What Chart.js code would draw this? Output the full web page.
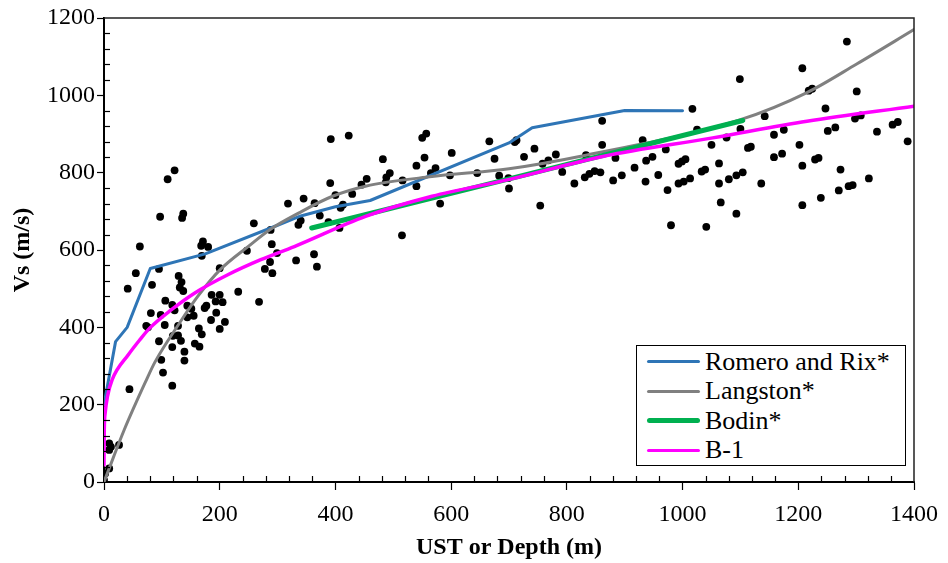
<!DOCTYPE html>
<html>
<head>
<meta charset="utf-8">
<script src="https://cdn.jsdelivr.net/npm/chart.js@4.4.1/dist/chart.umd.min.js"></script>
<style>
  html, body { margin: 0; padding: 0; background: #fff; }
  #wrap { position: relative; width: 948px; height: 563px; }
  #legend {
    position: absolute; left: 636px; top: 345px; width: 270px; height: 121px;
    box-sizing: border-box; border: 1.5px solid #000; background: #fff;
    font-family: "Liberation Serif", "Times New Roman", serif; font-size: 26px; color: #000;
    padding-top: 1px;
  }
  .row { display: flex; align-items: center; height: 29.5px; white-space: nowrap; }
  .swatch { width: 53px; margin-left: 10px; margin-right: 5px; border-radius: 3px; }
</style>
</head>
<body>
<div id="wrap">
  <canvas id="chart"></canvas>
  <div id="legend"></div>
</div>
<script>
const xTicks = [0, 200, 400, 600, 800, 1000, 1200, 1400];
const yTicks = [0, 200, 400, 600, 800, 1000, 1200];

// measured Vs profiles (depth m, Vs m/s)
const observedPoints = [
  [0, 5], [2, 22], [9, 35], [9, 100], [12, 91], [9, 83], [26, 96],
  [44, 240], [41, 500], [55, 540], [62, 609], [83, 510], [95, 551], [97, 686], [110, 783],
  [122, 806], [135, 683], [137, 694], [129, 533], [134, 517], [131, 503], [137, 494],
  [106, 469], [118, 458], [81, 437], [98, 432], [122, 444], [144, 456], [151, 448],
  [155, 430], [144, 426], [73, 404], [76, 400], [105, 406], [128, 404], [95, 364],
  [119, 378], [128, 379], [133, 365], [118, 349], [139, 337], [139, 314], [99, 316],
  [102, 283], [118, 249], [157, 358], [165, 350], [164, 397], [169, 382], [174, 450],
  [177, 456], [186, 484], [193, 467], [200, 484], [205, 465], [194, 438], [185, 419],
  [200, 396], [209, 414], [232, 492], [268, 466], [169, 585], [171, 622], [168, 611],
  [180, 608], [200, 553], [247, 598], [278, 551], [287, 569], [291, 540], [299, 592],
  [332, 573], [290, 615], [259, 669], [288, 652], [318, 720], [345, 733], [336, 665],
  [340, 676], [363, 589], [368, 557],
  [392, 887], [423, 896], [364, 721], [373, 689], [388, 672], [391, 773], [400, 742],
  [407, 657], [409, 709], [413, 717], [429, 745], [445, 769], [454, 784], [482, 835],
  [487, 775], [488, 788], [494, 799], [515, 638], [516, 780], [540, 765], [540, 818],
  [550, 890], [557, 901], [554, 839], [565, 799], [573, 812], [581, 720], [598, 793],
  [601, 851], [645, 799], [666, 881], [675, 836], [683, 792], [699, 786],
  [713, 884], [710, 879], [726, 841], [744, 862], [700, 759], [754, 715], [758, 823],
  [768, 832], [781, 847], [792, 802], [813, 772], [831, 788], [839, 797], [848, 804],
  [858, 801], [833, 845], [861, 934], [861, 872], [880, 780], [884, 838], [895, 793],
  [917, 813], [931, 884], [936, 777], [937, 831], [948, 841], [958, 794], [971, 860],
  [974, 755], [980, 664], [993, 772], [1002, 777], [1013, 785], [993, 823], [999, 829],
  [1005, 835], [1017, 965], [1025, 911], [1033, 803], [1039, 808], [1041, 660], [1050, 872],
  [1099, 1042], [1207, 1070], [1284, 1139], [1218, 1012], [1224, 1017], [1301, 1010],
  [1247, 966], [1142, 946], [1100, 913], [1076, 891], [1158, 898], [1175, 911],
  [1113, 864], [1118, 867], [1202, 872], [1158, 840], [1172, 849], [1251, 908],
  [1264, 917], [1298, 940], [1308, 948], [1336, 906], [1363, 924], [1372, 931],
  [1389, 881], [1063, 824], [1063, 772], [1080, 783], [1093, 793], [1104, 801],
  [1136, 772], [1066, 723], [1093, 694], [1207, 818], [1229, 834], [1235, 838],
  [1207, 716], [1239, 735], [1270, 754], [1287, 765], [1294, 768], [1322, 785], [1273, 808]
];

const romeroDepth = [0, 20, 40, 80, 175, 300, 340, 400, 460, 700, 740, 900, 1000];
const romeroVs = [200, 363, 400, 552, 590, 664, 688, 712, 728, 877, 916, 961, 960];

const langstonDepth = [0, 35, 73, 88, 130, 162, 200, 250, 286, 337, 395, 452, 567, 700, 833, 1100, 1215, 1301, 1400];
const langstonVs = [0, 135, 263, 310, 410, 480, 548, 610, 652, 696, 739, 765, 790, 810, 845, 937, 1007, 1081, 1170];

const bodinDepth = [359, 690, 1104];
const bodinVs = [657, 780, 935];

const b1Depth = [0, 0.5, 2, 6, 14, 42, 62, 79, 116, 157, 214, 271, 329, 452, 567, 699, 862, 1052, 1215, 1400];
const b1Vs = [44, 135, 178, 221, 264, 329, 368, 398, 445, 489, 536, 575, 609, 687, 739, 782, 842, 890, 933, 972];

function toPoints(xs, ys) {
  return xs.map((x, i) => ({ x, y: ys[i] }));
}

const SERIF = "'Liberation Serif', 'Times New Roman', serif";
Chart.defaults.font.family = SERIF;
Chart.defaults.color = '#000';

// plot frame plus inward minor ticks every 40
const frameAndMinorTicks = {
  id: 'frameAndMinorTicks',
  afterDatasetsDraw(chart) {
    const { ctx, chartArea: a, scales } = chart;
    ctx.save();
    ctx.strokeStyle = '#000';
    ctx.lineWidth = 1.2;
    for (let v = 40; v < 1400; v += 40) {
      if (v % 200 === 0) continue;
      const px = Math.round(scales.x.getPixelForValue(v)) + 0.5;
      ctx.beginPath();
      ctx.moveTo(px, a.bottom);
      ctx.lineTo(px, a.bottom - 6);
      ctx.stroke();
    }
    for (let v = 40; v < 1200; v += 40) {
      if (v % 200 === 0) continue;
      const py = Math.round(scales.y.getPixelForValue(v)) + 0.5;
      ctx.beginPath();
      ctx.moveTo(a.left, py);
      ctx.lineTo(a.left + 6, py);
      ctx.stroke();
    }
    ctx.strokeStyle = '#222';
    ctx.lineWidth = 1.5;
    ctx.beginPath();
    ctx.moveTo(a.left, a.top);
    ctx.lineTo(a.right, a.top);
    ctx.lineTo(a.right, a.bottom);
    ctx.stroke();
    ctx.restore();
  }
};

const lineSeries = [
  { label: 'Romero and Rix*', data: toPoints(romeroDepth, romeroVs), color: '#2E75B6', width: 3, smooth: false, order: 4 },
  { label: 'Langston*', data: toPoints(langstonDepth, langstonVs), color: '#808080', width: 3, smooth: true, order: 3 },
  { label: 'Bodin*', data: toPoints(bodinDepth, bodinVs), color: '#00B050', width: 5, smooth: false, order: 2 },
  { label: 'B-1', data: toPoints(b1Depth, b1Vs), color: '#FF00FF', width: 3.5, smooth: true, order: 1 }
];

const datasets = [
  {
    label: 'Data',
    data: observedPoints.map(([x, y]) => ({ x, y })),
    backgroundColor: '#000',
    borderWidth: 0,
    pointRadius: 3.9,
    showLine: false,
    order: 10
  },
  ...lineSeries.map((s) => ({
    label: s.label,
    data: s.data,
    showLine: true,
    borderColor: s.color,
    backgroundColor: s.color,
    borderWidth: s.width,
    pointRadius: 0,
    cubicInterpolationMode: s.smooth ? 'monotone' : 'default',
    borderCapStyle: 'round',
    borderJoinStyle: 'round',
    order: s.order
  }))
];

const tickFont = { family: 'Liberation Serif', size: 24, weight: 'normal' };

new Chart(document.getElementById('chart'), {
  type: 'scatter',
  data: { datasets },
  options: {
    responsive: true,
    maintainAspectRatio: false,
    animation: false,
    layout: { padding: { top: 18, right: 30, left: 0, bottom: 0 } },
    plugins: { legend: { display: false }, tooltip: { enabled: false } },
    scales: {
      x: {
        type: 'linear',
        min: 0,
        max: 1400,
        afterBuildTicks(scale) { scale.ticks = xTicks.map((v) => ({ value: v })); },
        afterFit(scale) { scale.height = 81; },
        ticks: { color: '#000', font: tickFont, padding: 10, callback: (v) => String(v) },
        grid: { drawOnChartArea: false, tickLength: 8, tickColor: '#000', tickWidth: 1.2 },
        border: { color: '#000', width: 2 },
        title: {
          display: true,
          text: 'UST or Depth (m)',
          color: '#000',
          font: { family: SERIF, size: 24, weight: 'bold' },
          padding: { top: 0, bottom: 1 }
        }
      },
      y: {
        type: 'linear',
        min: 0,
        max: 1200,
        afterBuildTicks(scale) { scale.ticks = yTicks.map((v) => ({ value: v })); },
        afterFit(scale) { scale.width = 104; },
        ticks: { color: '#000', font: tickFont, padding: 2, callback: (v) => String(v) },
        grid: { drawOnChartArea: false, tickLength: 7, tickColor: '#000', tickWidth: 1.2 },
        border: { color: '#000', width: 2 },
        title: {
          display: true,
          text: 'Vs (m/s)',
          color: '#000',
          font: { family: SERIF, size: 24, weight: 'bold' },
          padding: { top: 8, bottom: 0 }
        }
      }
    }
  },
  plugins: [frameAndMinorTicks]
});

const legendEl = document.getElementById('legend');
lineSeries.forEach((s) => {
  const row = document.createElement('div');
  row.className = 'row';
  const sw = document.createElement('span');
  sw.className = 'swatch';
  sw.style.height = s.width + 'px';
  sw.style.background = s.color;
  const txt = document.createElement('span');
  txt.textContent = s.label;
  row.appendChild(sw);
  row.appendChild(txt);
  legendEl.appendChild(row);
});
</script>
</body>
</html>
